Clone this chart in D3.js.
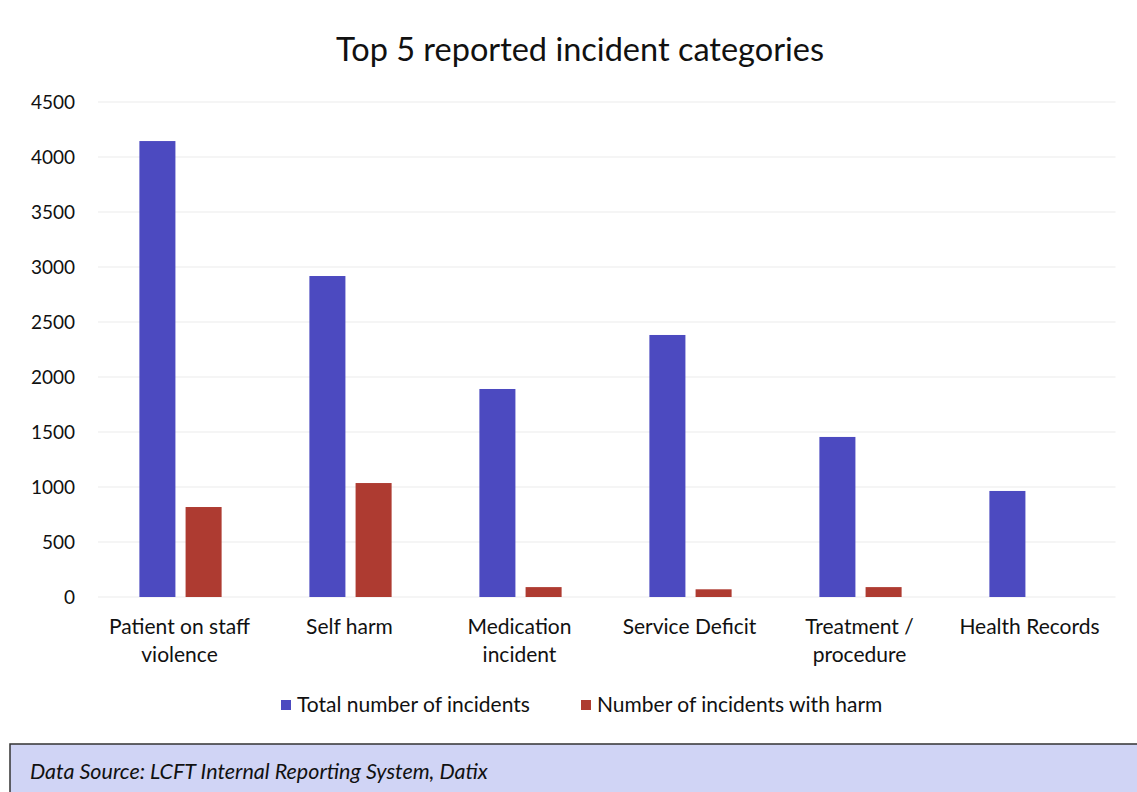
<!DOCTYPE html>
<html>
<head>
<meta charset="utf-8">
<script src="https://cdn.jsdelivr.net/npm/d3@7"></script>
<style>
  html, body { margin: 0; padding: 0; background: #fff; }
  svg { display: block; font-family: Lato, "Open Sans", sans-serif; }
</style>
</head>
<body>
<svg id="chart" width="1137" height="792"></svg>
<script>
// Incident categories and counts
const categories = [
  ["Patient on staff", "violence"],
  ["Self harm"],
  ["Medication", "incident"],
  ["Service Deficit"],
  ["Treatment /", "procedure"],
  ["Health Records"]
];
const seriesNames = ["Total number of incidents", "Number of incidents with harm"];
const totalIncidents = [4145, 2918, 1891, 2382, 1455, 964];
const harmIncidents = [818, 1036, 90, 70, 90, 0];
const yTicks = [0, 500, 1000, 1500, 2000, 2500, 3000, 3500, 4000, 4500];
const colors = ["#4c4ac0", "#ae3b31"];

const svg = d3.select("#chart");
const W = 1137, H = 792;
const plot = { left: 95.5, right: 1115.5, top: 102, bottom: 597 };

const x0 = d3.scaleBand()
  .domain(d3.range(categories.length))
  .range([plot.left, plot.right])
  .paddingInner(0)
  .paddingOuter(0);

const x1 = d3.scaleBand()
  .domain([0, 1])
  .range([0, x0.bandwidth()])
  .paddingInner(0.22)
  .paddingOuter(0.95);

const y = d3.scaleLinear().domain([0, 4500]).range([plot.bottom, plot.top]);

// Title
svg.append("text")
  .attr("x", 580).attr("y", 61)
  .attr("text-anchor", "middle")
  .attr("font-size", 32.5)
  .attr("fill", "#111")
  .text("Top 5 reported incident categories");

// Gridlines
svg.append("g")
  .selectAll("line")
  .data(yTicks)
  .join("line")
  .attr("x1", 98).attr("x2", plot.right)
  .attr("y1", d => y(d)).attr("y2", d => y(d))
  .attr("stroke", "#ebebeb")
  .attr("stroke-width", 1);

// Y axis labels
const yAxis = d3.axisLeft(y).tickValues(yTicks).tickFormat(d3.format("d")).tickSize(0).tickPadding(0);
const gy = svg.append("g").attr("transform", "translate(75,0)").call(yAxis);
gy.select(".domain").remove();
gy.selectAll("text")
  .attr("font-family", "Lato, 'Open Sans', sans-serif")
  .attr("font-size", 19)
  .attr("fill", "#111");

// Bars
const series = [totalIncidents, harmIncidents];
const groups = svg.append("g")
  .selectAll("g")
  .data(categories.map((c, i) => i))
  .join("g")
  .attr("transform", i => `translate(${x0(i)},0)`);

groups.selectAll("rect")
  .data(i => series.map((s, k) => ({ k, v: s[i] })).filter(d => d.v > 0))
  .join("rect")
  .attr("x", d => x1(d.k))
  .attr("width", x1.bandwidth())
  .attr("y", d => y(d.v))
  .attr("height", d => y(0) - y(d.v))
  .attr("fill", d => colors[d.k]);

// Category labels
const xl = svg.append("g");
categories.forEach((lines, i) => {
  const t = xl.append("text")
    .attr("text-anchor", "middle")
    .attr("font-size", 21)
    .attr("fill", "#111");
  lines.forEach((ln, j) => {
    t.append("tspan")
      .attr("x", x0(i) + x0.bandwidth() / 2 - 1)
      .attr("y", 634 + j * 28)
      .text(ln);
  });
});

// Legend
const legendX = [281, 581];
seriesNames.forEach((name, k) => {
  svg.append("rect")
    .attr("x", legendX[k]).attr("y", 700)
    .attr("width", 10).attr("height", 10)
    .attr("fill", colors[k]);
  svg.append("text")
    .attr("x", legendX[k] + 16).attr("y", 712)
    .attr("font-size", 21)
    .attr("fill", "#111")
    .text(name);
});

// Source box
svg.append("rect")
  .attr("x", 10).attr("y", 744)
  .attr("width", W - 9).attr("height", 60)
  .attr("fill", "#d0d4f5")
  .attr("stroke", "#333")
  .attr("stroke-width", 1.5);
svg.append("text")
  .attr("x", 30).attr("y", 779)
  .attr("font-size", 21.5)
  .attr("font-style", "italic")
  .attr("fill", "#111")
  .text("Data Source: LCFT Internal Reporting System, Datix");
</script>
</body>
</html>
